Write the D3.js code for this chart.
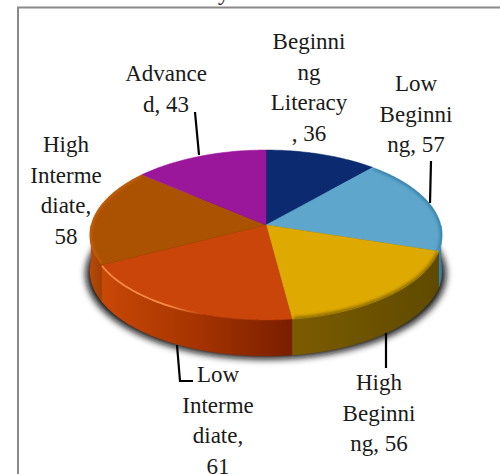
<!DOCTYPE html>
<html><head><meta charset="utf-8">
<script src="https://cdn.jsdelivr.net/npm/d3@7/dist/d3.min.js"></script>
<style>html,body{margin:0;padding:0;background:#fff}svg{display:block}text{font-family:"Liberation Serif",serif;font-size:23px;fill:#1a1a1a}</style>
</head><body><div id="c"></div>
<script>
// ---- data ----
const categories = ["Beginning Literacy","Low Beginning","High Beginning","Low Intermediate","High Intermediate","Advanced"];
const values = [36,57,56,61,58,43];
const labelLines = [
  ["Beginni","ng","Literacy",", 36"],
  ["Low","Beginni","ng, 57"],
  ["High","Beginni","ng, 56"],
  ["Low","Interme","diate,","61"],
  ["High","Interme","diate,","58"],
  ["Advance","d, 43"]
];
const topColors  = ["#0b2a70","#5ea6cb","#dea900","#c9450a","#ab5202","#9a169a"];
const rimColors  = ["#0b2a70","#2f7aa3","#7d6200","#f0803a","#c9600c","#9a169a"];
const sideStops  = [
  ["#0b2a70","#0b2a70"],
  ["#3f8db8","#2f6f96"],
  ["#7c5c00","#5e4a00"],
  ["#c94806","#a53400","#7a1e00"],
  ["#b84a08","#a04004"],
  ["#9a169a","#9a169a"]
];

// ---- layout ----
const W=500,H=474, cx=266, apexY=225, a=174.8, b=83.8, p=0.1176, depth=36;
const labelAnchor=[[309,49],[416,91],[379,390],[218,382],[66,152],[166,81]];
const leaders=[null,[[431,161],[430,203]],[[386,333],[386,368]],[[177,345],[180,381],[193,381]],null,[[195,112],[199,155]]];
const proj=(ang)=>{const X=Math.sin(ang),Y=Math.cos(ang),w=1+p*Y;return [cx+a*X/w,apexY-b*Y/w];};

const svg=d3.select("#c").append("svg").attr("width",W).attr("height",H);
const defs=svg.append("defs");
const mkBlur=(id,sd)=>defs.append("filter").attr("id",id).attr("x","-20%").attr("y","-40%").attr("width","140%").attr("height","180%")
  .append("feGaussianBlur").attr("stdDeviation",sd);
mkBlur("blur",3.6); mkBlur("soft",1.5); mkBlur("soft2",2.2);

const pie=d3.pie().sort(null).value(d=>d)(values);
const line=d3.line();
const arcPts=(s,e,dy=0)=>{const n=Math.max(2,Math.ceil(Math.abs(e-s)/0.02));
  return d3.range(n+1).map(i=>{const q=proj(s+(e-s)*i/n);return [q[0],q[1]+dy];});};

// frame
svg.append("path").attr("d","M18,480V7.5H500").attr("fill","none").attr("stroke","#8a8a8a").attr("stroke-width",2);
// clipped title remnant
svg.append("text").attr("x",218).attr("y",0).text("y");

// drop shadow
const shadowPts=arcPts(0,2*Math.PI,depth+1).map(q=>[cx+(q[0]-cx)*1.022,q[1]+(q[1]>apexY?2:0)]);
svg.append("path").attr("d",line(shadowPts)+"Z").attr("fill","#111").attr("filter","url(#blur)");

// sides
pie.forEach((d,i)=>{
  const s=Math.max(d.startAngle,Math.PI*0.5), e=Math.min(d.endAngle,Math.PI*1.5);
  if(e<=s) return;
  const top=arcPts(s,e), bot=arcPts(s,e,depth).reverse();
  const x0=d3.min(top,q=>q[0]),x1=d3.max(top,q=>q[0]);
  const g=defs.append("linearGradient").attr("id","side"+i).attr("gradientUnits","userSpaceOnUse")
    .attr("x1",x0).attr("x2",x1).attr("y1",0).attr("y2",0);
  sideStops[i].forEach((c,k,arr)=>g.append("stop").attr("offset",k/(arr.length-1)).attr("stop-color",c));
  svg.append("path").attr("d",line(top.concat(bot))+"Z").attr("fill",`url(#side${i})`).attr("stroke",`url(#side${i})`).attr("stroke-width",.5);
});

// top faces
defs.append("clipPath").attr("id","topClip").append("path").attr("d",line(arcPts(0,2*Math.PI))+"Z");
pie.forEach((d,i)=>{
  svg.append("path").attr("d",line([[cx,apexY]].concat(arcPts(d.startAngle,d.endAngle)))+"Z")
    .attr("fill",topColors[i]).attr("stroke",topColors[i]).attr("stroke-width",.5);
});
// bevel along the rim of each top face
const rimG=svg.append("g").attr("clip-path","url(#topClip)");
pie.forEach((d,i)=>{
  if(i===0||i===5) return;
  rimG.append("path").attr("d",line(arcPts(d.startAngle+0.01,d.endAngle-0.01)))
    .attr("fill","none").attr("stroke",rimColors[i]).attr("stroke-width",i===3?3.5:4)
    .attr("filter","url(#soft)").attr("opacity",i===3?0:.85);
});
// highlight on the low-intermediate rim, fading towards the front
const li=pie[3];
const liPts=arcPts(li.endAngle-0.01,li.startAngle+0.45,0);
const hg=defs.append("linearGradient").attr("id","hl").attr("gradientUnits","userSpaceOnUse")
  .attr("x1",liPts[0][0]).attr("x2",liPts[liPts.length-1][0]).attr("y1",0).attr("y2",0);
hg.append("stop").attr("offset",0).attr("stop-color","#f58a45");
hg.append("stop").attr("offset",.65).attr("stop-color","#f58a45");
hg.append("stop").attr("offset",1).attr("stop-color","#f58a45").attr("stop-opacity",0);
svg.append("path").attr("d",line(liPts)).attr("fill","none").attr("stroke","url(#hl)").attr("stroke-width",1.8);

// leaders
leaders.forEach(l=>{ if(l) svg.append("path").attr("d",line(l)).attr("fill","none").attr("stroke","#000").attr("stroke-width",2.2);});

// labels
labelLines.forEach((ls,i)=>{
  const t=svg.append("text").attr("text-anchor","middle");
  ls.forEach((s,j)=>t.append("tspan").attr("x",labelAnchor[i][0]).attr("y",labelAnchor[i][1]+j*30.5).text(s));
});
</script></body></html>
